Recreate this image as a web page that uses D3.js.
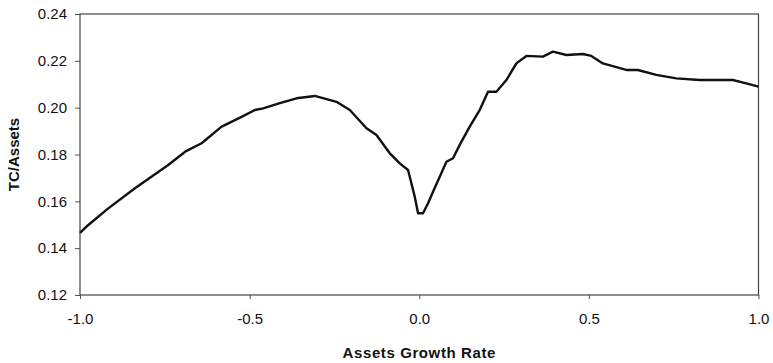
<!DOCTYPE html>
<html>
<head>
<meta charset="utf-8">
<script src="https://cdn.jsdelivr.net/npm/d3@7"></script>
<style>
  body { margin: 0; background: #fff; }
  text { font-family: "Liberation Sans", Arial, sans-serif; fill: #111; }
</style>
</head>
<body>
<svg></svg>
<script>
// values
const growth = [-1.0, -0.9755, -0.9167, -0.838, -0.74, -0.69, -0.6415, -0.5826, -0.5237, -0.4845,
  -0.46, -0.411, -0.3617, -0.3078, -0.2439, -0.2047, -0.1555, -0.1261, -0.0869, -0.0574,
  -0.033, -0.0133, -0.0035, 0.011, 0.026, 0.0406, 0.0604, 0.0801, 0.0996, 0.1193,
  0.1487, 0.1782, 0.2027, 0.2274, 0.2568, 0.2863, 0.3158, 0.3647, 0.3941, 0.4336,
  0.4825, 0.5072, 0.5414, 0.6103, 0.6445, 0.6987, 0.7576, 0.8262, 0.9243, 0.9638, 1.0];
const tcAssets = [0.1465, 0.1499, 0.157, 0.1656, 0.1755, 0.1812, 0.1848, 0.1919, 0.1961, 0.199,
  0.1997, 0.2019, 0.204, 0.205, 0.2025, 0.199, 0.1912, 0.1883, 0.1805, 0.1762,
  0.1734, 0.162, 0.1549, 0.1549, 0.1592, 0.1641, 0.1705, 0.1769, 0.1784, 0.1841,
  0.1919, 0.199, 0.2068, 0.2068, 0.2118, 0.2189, 0.2221, 0.2218, 0.2239, 0.2225,
  0.2229, 0.2221, 0.2189, 0.2161, 0.2161, 0.214, 0.2125, 0.2118, 0.2118, 0.2104, 0.209];
const xTicks = [-1.0, -0.5, 0.0, 0.5, 1.0];
const yTicks = [0.12, 0.14, 0.16, 0.18, 0.20, 0.22, 0.24];

const width = 773;
const height = 363;
const margin = { top: 14, right: 14, bottom: 68, left: 80 };

const svg = d3.select('svg')
  .attr('width', width)
  .attr('height', height);

const x = d3.scaleLinear()
  .domain([-1, 1])
  .range([margin.left, width - margin.right - 0.5]);

const y = d3.scaleLinear()
  .domain([0.12, 0.24])
  .range([height - margin.bottom, margin.top]);

// plain hyphen for negatives, like the original
const fmtX = d => d3.format('.1f')(d).replace('\u2212', '-');

const xAxis = svg.append('g')
  .attr('transform', `translate(0,${height - margin.bottom})`)
  .call(d3.axisBottom(x).tickValues(xTicks).tickFormat(fmtX).tickSize(4).tickPadding(14));

const yAxis = svg.append('g')
  .attr('transform', `translate(${margin.left},0)`)
  .call(d3.axisLeft(y).tickValues(yTicks).tickFormat(d3.format('.2f')).tickSize(5).tickPadding(8));

[xAxis, yAxis].forEach(g => {
  g.select('.domain').remove();
  g.selectAll('line').attr('stroke', '#555');
  g.selectAll('text').style('font-size', '15px').attr('fill', '#111');
});

// plot frame
svg.append('rect')
  .attr('x', x(-1))
  .attr('y', y(0.24))
  .attr('width', x(1) - x(-1))
  .attr('height', y(0.12) - y(0.24))
  .attr('fill', 'none')
  .attr('stroke', '#444')
  .attr('stroke-width', 1.2);

const points = growth.map((g, i) => [g, tcAssets[i]]);

svg.append('path')
  .datum(points)
  .attr('fill', 'none')
  .attr('stroke', '#111')
  .attr('stroke-width', 2.4)
  .attr('stroke-linejoin', 'round')
  .attr('d', d3.line().x(d => x(d[0])).y(d => y(d[1])));

svg.append('text')
  .attr('x', (x(-1) + x(1)) / 2)
  .attr('y', 358)
  .attr('text-anchor', 'middle')
  .style('font-size', '15px')
  .style('font-weight', 'bold')
  .style('letter-spacing', '0.6px')
  .text('Assets Growth Rate');

svg.append('text')
  .attr('transform', `translate(19,${(y(0.12) + y(0.24)) / 2}) rotate(-90)`)
  .attr('text-anchor', 'middle')
  .style('font-size', '15px')
  .style('font-weight', 'bold')
  .text('TC/Assets');
</script>
</body>
</html>
